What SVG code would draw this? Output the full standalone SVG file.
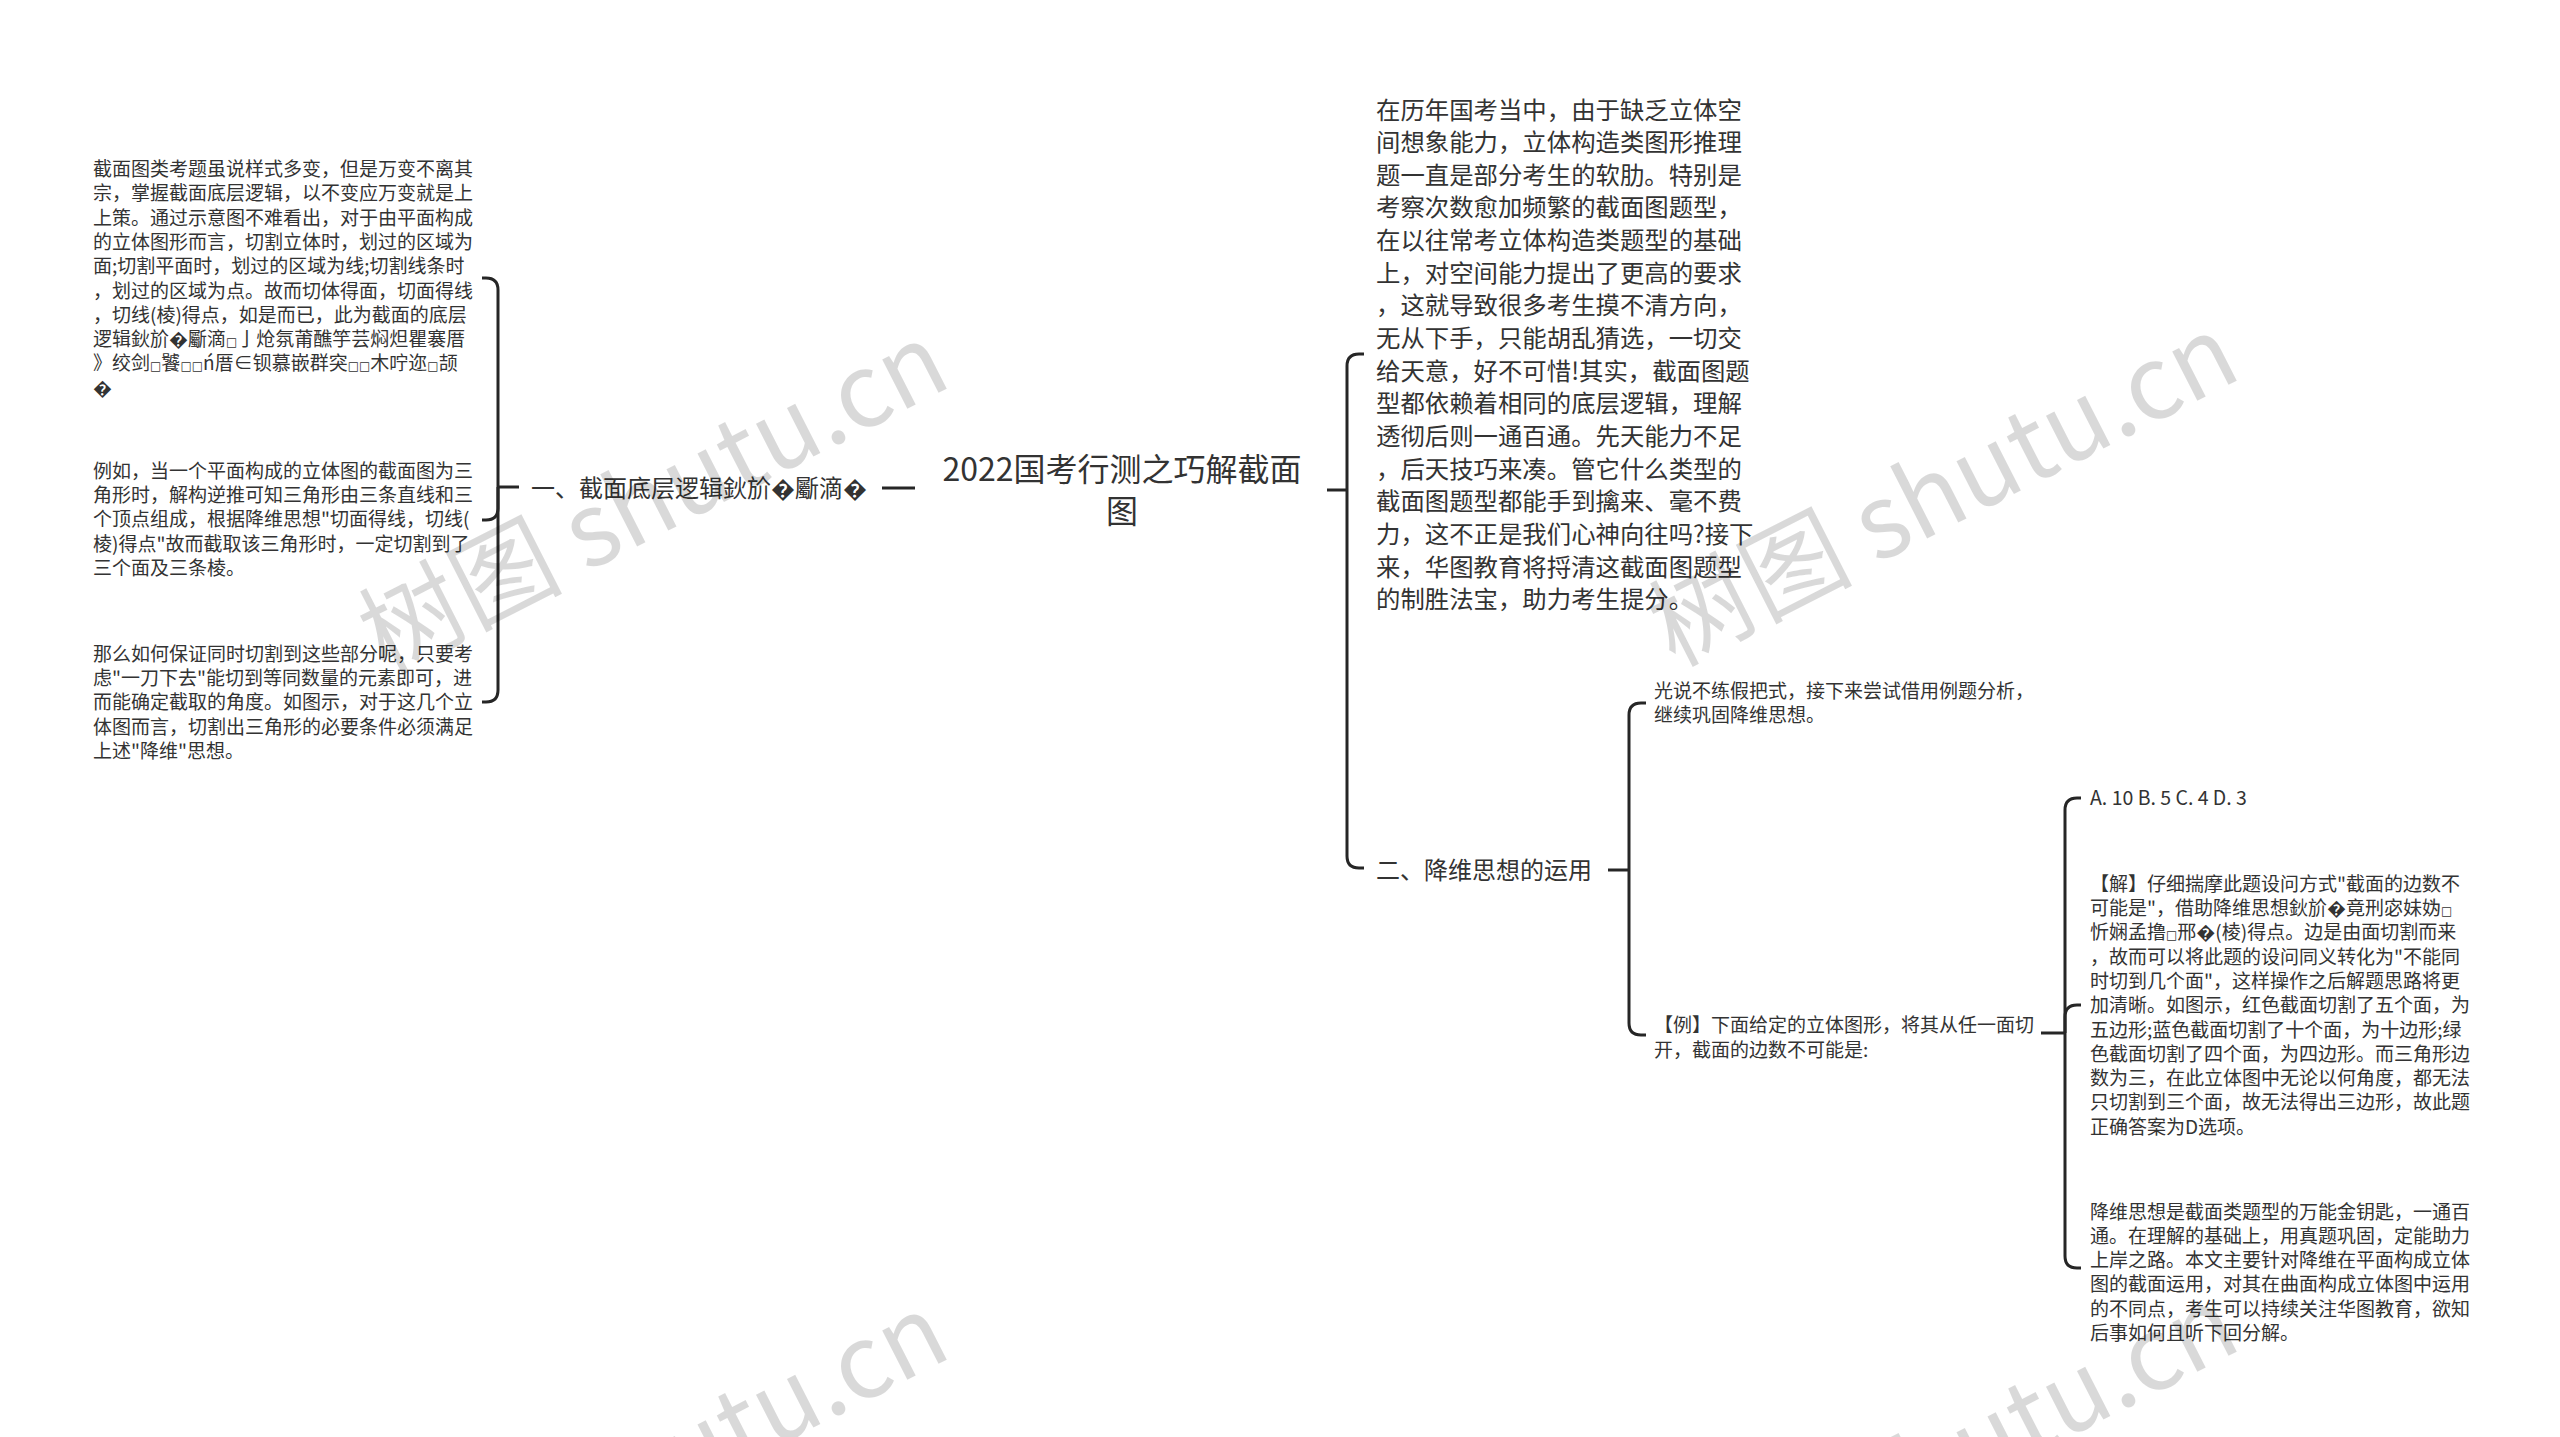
<svg xmlns="http://www.w3.org/2000/svg" width="2560" height="1437" viewBox="0 0 2560 1437">
<style>
text { font-family: 'Noto Sans CJK SC', 'Noto Sans', 'DejaVu Sans', sans-serif; fill: #333; }
.s19 { font-size: 19px; }
.s24 { font-size: 24px; }
.s245 { font-size: 24.4px; }
.s32 { font-size: 32px; }
.opt { font-size: 19.5px; }
.tf { font-family: 'DejaVu Sans', sans-serif; font-size: 12px; }
.conn path { fill: none; stroke: #262626; stroke-width: 3; }
.wm { font-size: 102px; fill: #000; fill-opacity: 0.15; }
</style>
<rect width="2560" height="1437" fill="#fff"/>

<g id="connectors" class="conn">
  <path d="M882,488 H915"/>
  <path d="M519,487 H498"/>
  <path d="M498,487 V290 Q498,278 486,278 H482"/>
  <path d="M498,487 V508 Q498,520 486,520 H482"/>
  <path d="M498,487 V690 Q498,702 486,702 H482"/>
  <path d="M1327,490 H1347"/>
  <path d="M1347,490 V366 Q1347,354 1359,354 H1364"/>
  <path d="M1347,490 V856 Q1347,868 1359,868 H1364"/>
  <path d="M1608,870 H1629"/>
  <path d="M1629,870 V715 Q1629,703 1641,703 H1646"/>
  <path d="M1629,870 V1023 Q1629,1035 1641,1035 H1646"/>
  <path d="M2041,1033 H2065"/>
  <path d="M2065,1033 V810 Q2065,798 2077,798 H2081"/>
  <path d="M2065,1033 V1017 Q2065,1005 2077,1005 H2081"/>
  <path d="M2065,1033 V1256 Q2065,1268 2077,1268 H2081"/>
</g>

<g id="root">
  <text class="s32" x="1122" y="481" text-anchor="middle">2022国考行测之巧解截面</text>
  <text class="s32" x="1122" y="523" text-anchor="middle">图</text>
</g>

<g id="node-left-1">
  <text class="s24" x="531" y="497">一、截面底层逻辑鈥斺�斸滴�</text>
</g>

<g id="node-left-1-a">
  <text class="s19">
    <tspan x="93" y="176">截面图类考题虽说样式多变，但是万变不离其</tspan>
    <tspan x="93" dy="24.3">宗，掌握截面底层逻辑，以不变应万变就是上</tspan>
    <tspan x="93" dy="24.3">上策。通过示意图不难看出，对于由平面构成</tspan>
    <tspan x="93" dy="24.3">的立体图形而言，切割立体时，划过的区域为</tspan>
    <tspan x="93" dy="24.3">面;切割平面时，划过的区域为线;切割线条时</tspan>
    <tspan x="93" dy="24.3">，划过的区域为点。故而切体得面，切面得线</tspan>
    <tspan x="93" dy="24.3">，切线(棱)得点，如是而已，此为截面的底层</tspan>
    <tspan x="93" dy="24.3">逻辑鈥斺�斸滴<tspan class="tf">□</tspan>亅炝氛莆醮竽芸焖炟瞿褰厝</tspan>
    <tspan x="93" dy="24.3">》绞剑<tspan class="tf">□</tspan>饕<tspan class="tf">□□</tspan>ń厝∈钡慕嵌群突<tspan class="tf">□□</tspan>木咛迩<tspan class="tf">□</tspan>颉</tspan>
    <tspan x="93" dy="24.3">�</tspan>
  </text>
</g>

<g id="node-left-1-b">
  <text class="s19">
    <tspan x="93" y="477.6">例如，当一个平面构成的立体图的截面图为三</tspan>
    <tspan x="93" dy="24.3">角形时，解构逆推可知三角形由三条直线和三</tspan>
    <tspan x="93" dy="24.3">个顶点组成，根据降维思想"切面得线，切线(</tspan>
    <tspan x="93" dy="24.3">棱)得点"故而截取该三角形时，一定切割到了</tspan>
    <tspan x="93" dy="24.3">三个面及三条棱。</tspan>
  </text>
</g>

<g id="node-left-1-c">
  <text class="s19">
    <tspan x="93" y="660.6">那么如何保证同时切割到这些部分呢，只要考</tspan>
    <tspan x="93" dy="24.3">虑"一刀下去"能切到等同数量的元素即可，进</tspan>
    <tspan x="93" dy="24.3">而能确定截取的角度。如图示，对于这几个立</tspan>
    <tspan x="93" dy="24.3">体图而言，切割出三角形的必要条件必须满足</tspan>
    <tspan x="93" dy="24.3">上述"降维"思想。</tspan>
  </text>
</g>

<g id="node-right-intro">
  <text class="s245">
    <tspan x="1376" y="118.5">在历年国考当中，由于缺乏立体空</tspan>
    <tspan x="1376" dy="32.65">间想象能力，立体构造类图形推理</tspan>
    <tspan x="1376" dy="32.65">题一直是部分考生的软肋。特别是</tspan>
    <tspan x="1376" dy="32.65">考察次数愈加频繁的截面图题型，</tspan>
    <tspan x="1376" dy="32.65">在以往常考立体构造类题型的基础</tspan>
    <tspan x="1376" dy="32.65">上，对空间能力提出了更高的要求</tspan>
    <tspan x="1376" dy="32.65">，这就导致很多考生摸不清方向，</tspan>
    <tspan x="1376" dy="32.65">无从下手，只能胡乱猜选，一切交</tspan>
    <tspan x="1376" dy="32.65">给天意，好不可惜!其实，截面图题</tspan>
    <tspan x="1376" dy="32.65">型都依赖着相同的底层逻辑，理解</tspan>
    <tspan x="1376" dy="32.65">透彻后则一通百通。先天能力不足</tspan>
    <tspan x="1376" dy="32.65">，后天技巧来凑。管它什么类型的</tspan>
    <tspan x="1376" dy="32.65">截面图题型都能手到擒来、毫不费</tspan>
    <tspan x="1376" dy="32.65">力，这不正是我们心神向往吗?接下</tspan>
    <tspan x="1376" dy="32.65">来，华图教育将捋清这截面图题型</tspan>
    <tspan x="1376" dy="32.65">的制胜法宝，助力考生提分。</tspan>
  </text>
</g>

<g id="node-right-2">
  <text class="s24" x="1376" y="879">二、降维思想的运用</text>
</g>

<g id="node-right-2-a">
  <text class="s19">
    <tspan x="1654" y="697.7">光说不练假把式，接下来尝试借用例题分析，</tspan>
    <tspan x="1654" dy="24.3">继续巩固降维思想。</tspan>
  </text>
</g>

<g id="node-right-2-b">
  <text class="s19">
    <tspan x="1654" y="1032.4">【例】下面给定的立体图形，将其从任一面切</tspan>
    <tspan x="1654" dy="24.3">开，截面的边数不可能是:</tspan>
  </text>
</g>

<g id="node-options">
  <text class="opt" x="2090" y="805">A. 10 B. 5 C. 4 D. 3</text>
</g>

<g id="node-answer">
  <text class="s19">
    <tspan x="2090" y="890.7">【解】仔细揣摩此题设问方式"截面的边数不</tspan>
    <tspan x="2090" dy="24.3">可能是"，借助降维思想鈥斺�竟刑宓妹妫<tspan class="tf">□</tspan></tspan>
    <tspan x="2090" dy="24.3">忻娴孟撸<tspan class="tf">□</tspan>邢�(棱)得点。边是由面切割而来</tspan>
    <tspan x="2090" dy="24.3">，故而可以将此题的设问同义转化为"不能同</tspan>
    <tspan x="2090" dy="24.3">时切到几个面"，这样操作之后解题思路将更</tspan>
    <tspan x="2090" dy="24.3">加清晰。如图示，红色截面切割了五个面，为</tspan>
    <tspan x="2090" dy="24.3">五边形;蓝色截面切割了十个面，为十边形;绿</tspan>
    <tspan x="2090" dy="24.3">色截面切割了四个面，为四边形。而三角形边</tspan>
    <tspan x="2090" dy="24.3">数为三，在此立体图中无论以何角度，都无法</tspan>
    <tspan x="2090" dy="24.3">只切割到三个面，故无法得出三边形，故此题</tspan>
    <tspan x="2090" dy="24.3">正确答案为D选项。</tspan>
  </text>
</g>

<g id="node-summary">
  <text class="s19">
    <tspan x="2090" y="1218.5">降维思想是截面类题型的万能金钥匙，一通百</tspan>
    <tspan x="2090" dy="24.3">通。在理解的基础上，用真题巩固，定能助力</tspan>
    <tspan x="2090" dy="24.3">上岸之路。本文主要针对降维在平面构成立体</tspan>
    <tspan x="2090" dy="24.3">图的截面运用，对其在曲面构成立体图中运用</tspan>
    <tspan x="2090" dy="24.3">的不同点，考生可以持续关注华图教育，欲知</tspan>
    <tspan x="2090" dy="24.3">后事如何且听下回分解。</tspan>
  </text>
</g>

<g id="watermarks">
  <text class="wm" x="653" y="534" text-anchor="middle" transform="rotate(-27 653 498)">树图 shutu.cn</text>
  <text class="wm" x="1943" y="526" text-anchor="middle" transform="rotate(-27 1943 490)">树图 shutu.cn</text>
  <text class="wm" x="653" y="1505" text-anchor="middle" transform="rotate(-27 653 1469)">树图 shutu.cn</text>
  <text class="wm" x="1943" y="1497" text-anchor="middle" transform="rotate(-27 1943 1461)">树图 shutu.cn</text>
</g>
</svg>
